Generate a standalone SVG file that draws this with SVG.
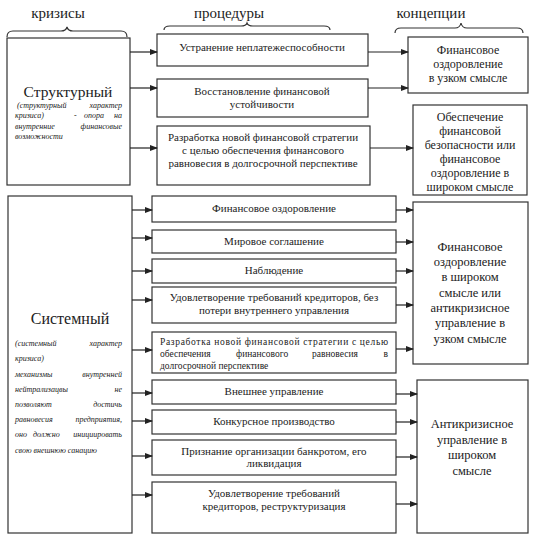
<svg xmlns="http://www.w3.org/2000/svg" width="536" height="538" viewBox="0 0 536 538" font-family="'Liberation Serif', 'Times New Roman', serif">
<defs>
<marker id="ah" markerWidth="8" markerHeight="6" refX="7" refY="3" orient="auto" markerUnits="userSpaceOnUse">
<path d="M0,0 L8,3 L0,6 Z" fill="#222"/>
</marker>
<style>
.box{fill:#fff;stroke:#333;stroke-width:1.2}
.t{fill:#222}
.hd{font-size:15px;text-anchor:middle}
.p{font-size:11px;text-anchor:middle}
.ps{font-size:9.5px}
.c{text-anchor:middle;font-size:12px}
.cb{text-anchor:middle;font-size:12.5px}
.it{font-size:8px;font-style:italic}
.e{text-anchor:end}
.ti{text-anchor:middle}
.ln{stroke:#222;stroke-width:1.2;fill:none}
.br{stroke:#333;stroke-width:1.2;fill:none}
</style>
</defs>
<rect width="536" height="538" fill="#fff"/>
<g id="headers">
<text class="t hd" x="58" y="18">кризисы</text>
<text class="t hd" x="229" y="18">процедуры</text>
<text class="t hd" x="431" y="18">концепции</text>
<path class="br" d="M7,37 Q7,31 13,31 L61,31 Q66,31 67,27 Q68,31 73,31 L121,31 Q127,31 127,37"/>
<path class="br" d="M164,30 Q164,26 170,26 L241,26 Q246,26 247,23 Q248,26 253,26 L324,26 Q330,26 330,30"/>
<path class="br" d="M395,33 Q395,28 401,28 L455,28 Q460,28 461,23 Q462,28 467,28 L517,28 Q523,28 523,33"/>
</g>
<g id="structural">
<rect class="box" x="7" y="38" width="123" height="147"/>
<text class="t ti" font-size="15.5" x="68" y="97">Структурный</text>
<text class="t it" x="17" y="108">(структурный</text>
<text class="t it e" x="122" y="108">характер</text>
<text class="t it" x="15" y="118">кризиса)</text>
<text class="t it" x="74" y="118">-</text>
<text class="t it" x="84" y="118">опора</text>
<text class="t it e" x="122" y="118">на</text>
<text class="t it" x="15" y="129">внутренние</text>
<text class="t it e" x="122" y="129">финансовые</text>
<text class="t it" x="15" y="139">возможности</text>
</g>
<g id="systemic">
<rect class="box" x="8" y="196" width="124" height="337"/>
<text class="t ti" font-size="16" x="70" y="324">Системный</text>
<text class="t it" x="15" y="346">(системный</text>
<text class="t it e" x="122" y="346">характер</text>
<text class="t it" x="15" y="361">кризиса)</text>
<text class="t it" x="15" y="377">механизмы</text>
<text class="t it e" x="122" y="377">внутренней</text>
<text class="t it" x="15" y="392">нейтрализацвы</text>
<text class="t it e" x="122" y="392">не</text>
<text class="t it" x="15" y="407">позволяют</text>
<text class="t it e" x="122" y="407">достичь</text>
<text class="t it" x="15" y="422">равновесия</text>
<text class="t it e" x="122" y="422">предприятия,</text>
<text class="t it" x="15" y="437">оно</text>
<text class="t it" x="33" y="437">должно</text>
<text class="t it e" x="122" y="437">инициировать</text>
<text class="t it" x="15" y="453">свою внешнюю санацию</text>
</g>
<g id="p1">
<rect class="box" x="157" y="34" width="211" height="32"/>
<text class="t p" x="262" y="51">Устранение неплатежеспособности</text>
</g>
<g id="p2">
<rect class="box" x="157" y="79" width="211" height="38"/>
<text class="t p" x="262" y="95">Восстановление финансовой</text>
<text class="t p" x="262" y="108">устойчивости</text>
</g>
<g id="p3">
<rect class="box" x="157" y="126" width="213" height="59"/>
<text class="t p" x="263" y="141">Разработка новой финансовой стратегии</text>
<text class="t p" x="263" y="154">с целью обеспечения финансового</text>
<text class="t p" x="263" y="167">равновесия в долгосрочной перспективе</text>
</g>
<g id="c1">
<rect class="box" x="408" y="37" width="120" height="56"/>
<text class="t c" x="468" y="54">Финансовое</text>
<text class="t c" x="468" y="68">оздоровление</text>
<text class="t c" x="468" y="82">в узком смысле</text>
</g>
<g id="c2">
<rect class="box" x="413" y="105" width="114" height="90"/>
<text class="t c" x="470" y="121">Обеспечение</text>
<text class="t c" x="470" y="135">финансовой</text>
<text class="t c" x="470" y="149">безопасности или</text>
<text class="t c" x="470" y="163">финансовое</text>
<text class="t c" x="470" y="177">оздоровление в</text>
<text class="t c" x="470" y="191">широком смысле</text>
</g>
<g id="s1">
<rect class="box" x="152" y="196" width="244" height="26"/>
<text class="t p" x="274" y="212">Финансовое оздоровление</text>
</g>
<g id="s2">
<rect class="box" x="152" y="230" width="244" height="23"/>
<text class="t p" x="274" y="245">Мировое соглашение</text>
</g>
<g id="s3">
<rect class="box" x="152" y="259" width="244" height="24"/>
<text class="t p" x="274" y="274">Наблюдение</text>
</g>
<g id="s4">
<rect class="box" x="152" y="287" width="244" height="36"/>
<text class="t p" x="274" y="301">Удовлетворение требований кредиторов, без</text>
<text class="t p" x="274" y="314">потери внутреннего управления</text>
</g>
<g id="s5">
<rect class="box" x="152" y="332" width="244" height="41"/>
<text class="t ps" x="160" y="345" textLength="228" lengthAdjust="spacing">Разработка новой финансовой стратегии с целью</text>
<text class="t ps" x="160" y="357">обеспечения</text>
<text class="t ps" x="236" y="357">финансового</text>
<text class="t ps" x="312" y="357">равновесия</text>
<text class="t ps e" x="388" y="357">в</text>
<text class="t ps" x="160" y="369">долгосрочной перспективе</text>
</g>
<g id="s6">
<rect class="box" x="152" y="380" width="244" height="24"/>
<text class="t p" x="274" y="395">Внешнее управление</text>
</g>
<g id="s7">
<rect class="box" x="152" y="410" width="244" height="24"/>
<text class="t p" x="274" y="425">Конкурсное производство</text>
</g>
<g id="s8">
<rect class="box" x="152" y="440" width="244" height="35"/>
<text class="t p" x="274" y="455">Признание организации банкротом, его</text>
<text class="t p" x="274" y="467">ликвидация</text>
</g>
<g id="s9">
<rect class="box" x="152" y="482" width="244" height="51"/>
<text class="t p" x="274" y="497">Удовлетворение требований</text>
<text class="t p" x="274" y="510">кредиторов, реструктуризация</text>
</g>
<g id="c3">
<rect class="box" x="413" y="202" width="115" height="162"/>
<text class="t cb" x="470" y="251">Финансовое</text>
<text class="t cb" x="470" y="266">оздоровление</text>
<text class="t cb" x="470" y="281">в широком</text>
<text class="t cb" x="470" y="297">смысле или</text>
<text class="t cb" x="470" y="312">антикризисное</text>
<text class="t cb" x="470" y="327">управление в</text>
<text class="t cb" x="470" y="343">узком смысле</text>
</g>
<g id="c4">
<rect class="box" x="417" y="380" width="111" height="153"/>
<text class="t cb" x="472" y="428">Антикризисное</text>
<text class="t cb" x="472" y="444">управление в</text>
<text class="t cb" x="472" y="459">широком</text>
<text class="t cb" x="472" y="475">смысле</text>
</g>
<g id="connectors">
<line class="ln" x1="130" y1="52" x2="157" y2="52" marker-end="url(#ah)"/>
<line class="ln" x1="130" y1="88" x2="157" y2="88" marker-end="url(#ah)"/>
<line class="ln" x1="130" y1="148" x2="157" y2="148" marker-end="url(#ah)"/>
<line class="ln" x1="368" y1="52" x2="408" y2="52" marker-end="url(#ah)"/>
<line class="ln" x1="368" y1="88" x2="408" y2="88" marker-end="url(#ah)"/>
<line class="ln" x1="370" y1="148" x2="413" y2="148" marker-end="url(#ah)"/>
<line class="ln" x1="132" y1="210" x2="152" y2="210" marker-end="url(#ah)"/>
<line class="ln" x1="132" y1="238" x2="152" y2="238" marker-end="url(#ah)"/>
<line class="ln" x1="132" y1="271" x2="152" y2="271" marker-end="url(#ah)"/>
<line class="ln" x1="132" y1="300" x2="152" y2="300" marker-end="url(#ah)"/>
<line class="ln" x1="132" y1="350" x2="152" y2="350" marker-end="url(#ah)"/>
<line class="ln" x1="132" y1="393" x2="152" y2="393" marker-end="url(#ah)"/>
<line class="ln" x1="132" y1="421" x2="152" y2="421" marker-end="url(#ah)"/>
<line class="ln" x1="132" y1="456" x2="152" y2="456" marker-end="url(#ah)"/>
<line class="ln" x1="132" y1="495" x2="152" y2="495" marker-end="url(#ah)"/>
<line class="ln" x1="396" y1="210" x2="413" y2="210" marker-end="url(#ah)"/>
<line class="ln" x1="396" y1="242" x2="413" y2="242" marker-end="url(#ah)"/>
<line class="ln" x1="396" y1="271" x2="413" y2="271" marker-end="url(#ah)"/>
<line class="ln" x1="396" y1="305" x2="413" y2="305" marker-end="url(#ah)"/>
<line class="ln" x1="396" y1="349" x2="413" y2="349" marker-end="url(#ah)"/>
<line class="ln" x1="396" y1="394" x2="417" y2="394" marker-end="url(#ah)"/>
<line class="ln" x1="396" y1="422" x2="417" y2="422" marker-end="url(#ah)"/>
<line class="ln" x1="396" y1="457" x2="417" y2="457" marker-end="url(#ah)"/>
<line class="ln" x1="396" y1="504" x2="417" y2="504" marker-end="url(#ah)"/>
</g>
</svg>
